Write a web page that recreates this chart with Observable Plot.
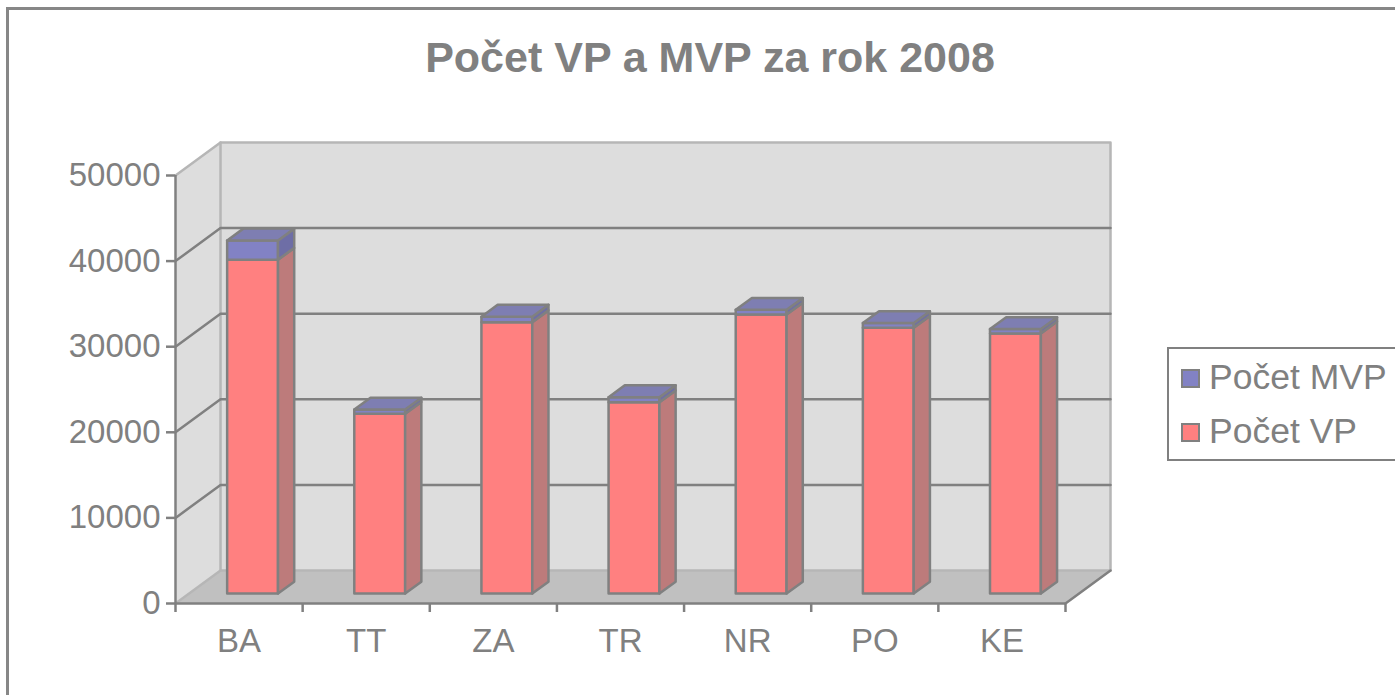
<!DOCTYPE html>
<html>
<head>
<meta charset="utf-8">
<script src="https://cdn.jsdelivr.net/npm/d3@7"></script>
<script src="https://cdn.jsdelivr.net/npm/@observablehq/plot@0.6"></script>
<style>
  html, body { margin: 0; padding: 0; background: #fff; overflow: hidden; }
  #wrap { position: relative; width: 1395px; height: 695px; overflow: hidden; font-family: "Liberation Sans", Arial, sans-serif; }
  #border { position: absolute; left: 6px; top: 7px; width: 1420px; height: 720px; border: 3px solid #878787; box-sizing: border-box; }
  #title { position: absolute; left: 0; width: 1420px; top: 32px; text-align: center; font-weight: bold; font-size: 43px; color: #808080; line-height: 50px; }
  #chart { position: absolute; left: 0; top: 0; }
  #legend { position: absolute; left: 1167px; top: 347px; width: 260px; height: 114px; border: 2px solid #808080; box-sizing: border-box; }
  .item { position: absolute; left: 12px; font-size: 35.5px; color: #808080; line-height: 40px; white-space: nowrap; }
  .sw { display: inline-block; width: 15px; height: 15px; border: 2px solid #808080; margin-right: 9px; vertical-align: 1px; }
</style>
</head>
<body>
<div id="wrap">
  <div id="border"></div>
  <div id="chart"></div>
  <div id="title"></div>
  <div id="legend"></div>
</div>
<script>
// ---- data ----
const categories = ["BA", "TT", "ZA", "TR", "NR", "PO", "KE"];
const vp  = [39000, 21000, 31700, 22350, 32600, 31050, 30400];   // Počet VP
const mvp = [2250, 500, 650, 600, 550, 550, 500];                // Počet MVP
const yTicks = [0, 10000, 20000, 30000, 40000, 50000];
const seriesNames = ["Počet MVP", "Počet VP"];
const titleText = "Počet VP a MVP za rok 2008";

// ---- 3D look constants (in scale units) ----
const DX = 0.354;   // depth offset along x (category slots)
const DY = 3855;    // depth offset along y (value units)
const D1 = 0.30, D2 = 0.66; // front/back depth of bars
const BW = 0.40;    // bar width in slot fraction
const N = categories.length;
const YMAX = yTicks[yTicks.length - 1];

const colors = {
  vpFront: "#ff8080", vpSide: "#bd7b7b",
  mvpFront: "#8282c4", mvpSide: "#6e6ea6", mvpTop: "#7e7eb2"
};

// build polygon faces
const faces = [];
function pushFace(kind, id, pts) { pts.forEach(([x, y]) => faces.push({kind, id, x, y})); }
function box(prefix, i, y0, y1, withTop) {
  const x0 = i + 0.5 - BW / 2, x1 = i + 0.5 + BW / 2;
  const a = [D1 * DX, D1 * DY], b = [D2 * DX, D2 * DY];
  pushFace(prefix + "Front", prefix + i + "f", [[x0 + a[0], y0 + a[1]], [x1 + a[0], y0 + a[1]], [x1 + a[0], y1 + a[1]], [x0 + a[0], y1 + a[1]]]);
  pushFace(prefix + "Side", prefix + i + "s", [[x1 + a[0], y0 + a[1]], [x1 + b[0], y0 + b[1]], [x1 + b[0], y1 + b[1]], [x1 + a[0], y1 + a[1]]]);
  if (withTop) pushFace(prefix + "Top", prefix + i + "t", [[x0 + a[0], y1 + a[1]], [x1 + a[0], y1 + a[1]], [x1 + b[0], y1 + b[1]], [x0 + b[0], y1 + b[1]]]);
}
categories.forEach((c, i) => {
  box("vp", i, 0, vp[i], false);
  box("mvp", i, vp[i], vp[i] + mvp[i], true);
});

// walls and floor
const walls = [];
const addPoly = (id, pts) => pts.forEach(([x, y]) => walls.push({id, x, y}));
addPoly("back", [[DX, DY], [N + DX, DY], [N + DX, YMAX + DY], [DX, YMAX + DY]]);
addPoly("left", [[0, 0], [DX, DY], [DX, YMAX + DY], [0, YMAX]]);
const floor = [];
[[0, 0], [N, 0], [N + DX, DY], [DX, DY]].forEach(([x, y]) => floor.push({x, y}));

// gridlines (left wall diagonal + back wall horizontal)
const grid = [];
yTicks.filter(t => t > 0 && t < YMAX).forEach(t => {
  [[0, t], [DX, t + DY], [N + DX, t + DY]].forEach(([x, y]) => grid.push({id: t, x, y}));
});
// light edges
const light = [];
const addLine = (id, pts) => pts.forEach(([x, y]) => light.push({id, x, y}));
addLine("top", [[0, YMAX], [DX, YMAX + DY], [N + DX, YMAX + DY], [N + DX, DY]]);
addLine("backleft", [[DX, DY], [DX, YMAX + DY]]);
addLine("floorback", [[0, 0], [DX, DY], [N + DX, DY]]);

const face = (kind, fill) => Plot.line(faces.filter(d => d.kind === kind), {
  x: "x", y: "y", z: "id", fill, stroke: "#808080", strokeWidth: 2.5, curve: "linear-closed", strokeLinejoin: "round"
});

const chart = Plot.plot({
  width: 1395, height: 695,
  marginLeft: 175, marginRight: 330, marginTop: 175, marginBottom: 92,
  style: {background: "transparent", fontFamily: "'Liberation Sans', Arial, sans-serif", overflow: "visible"},
  x: {domain: [0, N], axis: null},
  y: {domain: [0, YMAX], axis: null},
  marks: [
    Plot.line(walls, {x: "x", y: "y", z: "id", fill: "#dddddd", stroke: "none", curve: "linear-closed"}),
    Plot.line(floor, {x: "x", y: "y", fill: "#c0c0c0", stroke: "none", curve: "linear-closed"}),
    Plot.line(light, {x: "x", y: "y", z: "id", stroke: "#b6b6b6", strokeWidth: 2.5}),
    Plot.line(grid, {x: "x", y: "y", z: "id", stroke: "#808080", strokeWidth: 2.5}),
    Plot.line([[N, 0], [N + DX, DY]], {x: d => d[0], y: d => d[1], stroke: "#808080", strokeWidth: 2.5}),
    face("vpFront", colors.vpFront),
    face("vpSide", colors.vpSide),
    face("mvpFront", colors.mvpFront),
    face("mvpSide", colors.mvpSide),
    face("mvpTop", colors.mvpTop),
    Plot.ruleX([0], {y1: 0, y2: YMAX, stroke: "#808080", strokeWidth: 2.5}),
    Plot.ruleY([0], {x1: 0, x2: N, stroke: "#808080", strokeWidth: 2.5}),
    Plot.axisY({ticks: yTicks, tickFormat: d => String(d), tickSize: 9, tickPadding: 6, fontSize: 33, color: "#808080", strokeWidth: 2.5, anchor: "left", label: null}),
    Plot.axisX({ticks: d3.range(N + 1), tickFormat: () => "", tickSize: 9, color: "#808080", strokeWidth: 2.5, anchor: "bottom", label: null}),
    Plot.axisX({ticks: categories.map((c, i) => i + 0.5), tickFormat: d => categories[Math.floor(d)], tickSize: 0, tickPadding: 25, fontSize: 33, color: "#808080", anchor: "bottom", label: null})
  ]
});
document.getElementById("chart").appendChild(chart);
document.getElementById("title").textContent = titleText;

// legend
const legend = document.getElementById("legend");
const legendColors = [colors.mvpFront, colors.vpFront];
seriesNames.forEach((name, k) => {
  const it = document.createElement("div");
  it.className = "item";
  it.style.top = (k === 0 ? 8 : 62) + "px";
  const sw = document.createElement("span");
  sw.className = "sw";
  sw.style.background = legendColors[k];
  it.appendChild(sw);
  it.appendChild(document.createTextNode(name));
  legend.appendChild(it);
});
</script>
</body>
</html>
